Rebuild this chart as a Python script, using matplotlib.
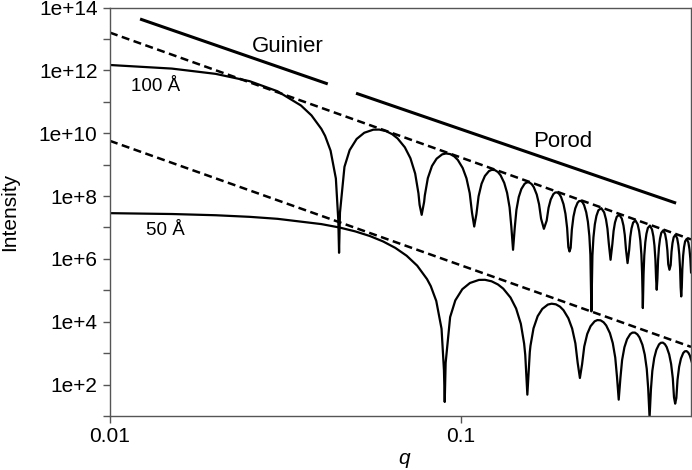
import numpy as np
import matplotlib
matplotlib.use("Agg")
import matplotlib.pyplot as plt
from matplotlib.ticker import FixedLocator, FuncFormatter, NullLocator, NullFormatter

plt.rcParams['font.family'] = ['Liberation Sans', 'DejaVu Sans']

# sphere 100 A: q and log10(intensity)
q_100 = [0.0100, 0.0150, 0.0200, 0.0250, 0.0300, 0.0350, 0.0375, 0.0400, 0.0410, 0.0425,
         0.0440, 0.0447, 0.04493, 0.0452,
         0.04655, 0.04816, 0.05042, 0.05301, 0.05624, 0.05850, 0.06109, 0.06368, 0.06594,
         0.06917, 0.07176, 0.07402, 0.07563, 0.0762, 0.07725, 0.0785,
         0.07884, 0.08043, 0.08265, 0.08520, 0.08838, 0.09060, 0.09315, 0.09569, 0.09791,
         0.10109, 0.10364, 0.10586, 0.10745, 0.10904,
         0.11062, 0.11220, 0.11442, 0.11695, 0.12011, 0.12232, 0.12485, 0.12738, 0.12959,
         0.13276, 0.13528, 0.13750, 0.13908, 0.14066,
         0.14224, 0.14382, 0.14602, 0.14855, 0.15170, 0.15391, 0.15644, 0.15896, 0.16117,
         0.16432, 0.16684, 0.16906, 0.17221,
         0.17536, 0.17757, 0.18009, 0.18324, 0.18544, 0.18796, 0.19048, 0.19269, 0.19584,
         0.19836, 0.20056, 0.20214, 0.20371,
         0.20528, 0.20686, 0.20906, 0.21158, 0.21473, 0.21693, 0.21945, 0.22197, 0.22417,
         0.22732, 0.22984, 0.23204, 0.23362, 0.23519,
         0.23676, 0.23834, 0.24054, 0.24306, 0.24620, 0.25093, 0.25565, 0.25880, 0.26131,
         0.26351, 0.26666,
         0.26981, 0.27201, 0.27452, 0.27767, 0.28239, 0.28710, 0.29025, 0.29276, 0.29497,
         0.29811,
         0.30126, 0.30346, 0.30597, 0.30912, 0.31384, 0.31855, 0.32170, 0.32421, 0.32642,
         0.32799, 0.32956,
         0.33113, 0.33270, 0.33490, 0.33742, 0.34056, 0.34528, 0.34999, 0.35314, 0.35566,
         0.35786, 0.35943, 0.36100,
         0.36257, 0.36414, 0.36634, 0.36886, 0.37200, 0.37672, 0.38144, 0.38458, 0.38710,
         0.38930, 0.39244,
         0.39558, 0.39778, 0.40030, 0.40344, 0.40816, 0.41288, 0.41602, 0.41854, 0.42074,
         0.42231, 0.42388,
         0.42545, 0.42702, 0.42922, 0.43174, 0.43488, 0.43959, 0.44430, 0.44745, 0.44996,
         0.45216]
logI_100 = [12.170, 12.056, 11.888, 11.655, 11.335, 10.881, 10.566, 10.138, 9.914, 9.443,
            8.558, 7.241, 6.194, 7.472,
            8.929, 9.461, 9.816, 10.014, 10.112, 10.115, 10.068, 9.968, 9.835,
            9.551, 9.202, 8.715, 8.086, 7.721, 7.402, 7.815,
            8.014, 8.570, 8.957, 9.189, 9.327, 9.355, 9.335, 9.261, 9.149,
            8.892, 8.564, 8.093, 7.476, 7.030,
            7.426, 7.992, 8.392, 8.639, 8.794, 8.834, 8.826, 8.764, 8.662,
            8.419, 8.101, 7.639, 7.028, 6.289,
            6.989, 7.561, 7.968, 8.224, 8.388, 8.435, 8.435, 8.379, 8.283,
            8.048, 7.737, 7.280, 6.957,
            7.216, 7.628, 7.889, 8.060, 8.111, 8.116, 8.065, 7.973, 7.743,
            7.436, 6.983, 6.378, 6.235,
            6.352, 6.929, 7.345, 7.609, 7.784, 7.839, 7.847, 7.799, 7.710,
            7.484, 7.180, 6.730, 6.127, 4.330,
            6.104, 6.683, 7.101, 7.368, 7.547, 7.614, 7.481, 7.259, 6.957,
            6.509, 5.971,
            6.468, 6.888, 7.157, 7.338, 7.409, 7.280, 7.060, 6.760, 6.313,
            5.866,
            6.276, 6.698, 6.968, 7.152, 7.225, 7.099, 6.881, 6.583, 6.137,
            5.538, 4.435,
            5.521, 6.104, 6.526, 6.798, 6.983, 7.059, 6.936, 6.719, 6.422,
            5.977, 5.379, 5.017,
            5.363, 5.947, 6.371, 6.644, 6.830, 6.908, 6.786, 6.571, 6.275,
            5.831, 5.653,
            5.803, 6.227, 6.501, 6.689, 6.769, 6.649, 6.435, 6.139, 5.696,
            5.099, 4.805,
            5.086, 5.670, 6.095, 6.370, 6.559, 6.640, 6.521, 6.308, 6.013,
            5.571]

# sphere 50 A
q_50 = [0.0100, 0.0150, 0.0200, 0.0250, 0.0300, 0.0400, 0.0450, 0.0500, 0.0550, 0.0600,
        0.0650, 0.0700, 0.0750, 0.0800, 0.0820, 0.0850, 0.0880, 0.0894, 0.08986, 0.0904,
        0.0931, 0.09632, 0.10084, 0.10602, 0.11248, 0.11700, 0.12218, 0.12736, 0.13188,
        0.13834, 0.14352, 0.14804, 0.15126, 0.1524, 0.1545, 0.1570,
        0.15768, 0.16086, 0.16530, 0.17040, 0.17676, 0.18120, 0.18630, 0.19138, 0.19582,
        0.20218, 0.20728, 0.21172, 0.21490, 0.21808,
        0.22124, 0.22440, 0.22884, 0.23390, 0.24022, 0.24464, 0.24970, 0.25476, 0.25918,
        0.26552, 0.27056, 0.27500, 0.27816, 0.28132,
        0.28448, 0.28764, 0.29204, 0.29710, 0.30340, 0.30782, 0.31288, 0.31792, 0.32234,
        0.32864, 0.33368, 0.33812, 0.34126, 0.34442,
        0.34758, 0.35072, 0.35514, 0.36018, 0.36648, 0.37088, 0.37592, 0.38096, 0.38538,
        0.39168, 0.39672, 0.40112, 0.40428, 0.40742,
        0.41056, 0.41372, 0.41812, 0.42316, 0.42946, 0.43386, 0.43890, 0.44394, 0.44834,
        0.45464]
logI_50 = [7.455, 7.428, 7.389, 7.338, 7.275, 7.107, 7.000, 6.874, 6.727, 6.554,
           6.349, 6.100, 5.785, 5.357, 5.133, 4.662, 3.777, 2.460, 1.447, 2.691,
           4.148, 4.680, 5.035, 5.233, 5.331, 5.334, 5.287, 5.187, 5.054,
           4.770, 4.421, 3.934, 3.305, 2.940, 1.679, 3.034,
           3.233, 3.789, 4.176, 4.408, 4.546, 4.574, 4.554, 4.480, 4.368,
           4.111, 3.783, 3.312, 2.695, 2.210,
           2.645, 3.211, 3.611, 3.858, 4.013, 4.053, 4.045, 3.983, 3.881,
           3.638, 3.320, 2.858, 2.247, 1.520,
           2.208, 2.780, 3.187, 3.443, 3.607, 3.654, 3.654, 3.598, 3.502,
           3.267, 2.956, 2.499, 1.892, 0.950,
           1.860, 2.435, 2.847, 3.108, 3.279, 3.330, 3.335, 3.284, 3.192,
           2.962, 2.655, 2.202, 1.597, 1.393,
           1.571, 2.148, 2.564, 2.828, 3.003, 3.058, 3.066, 3.018, 2.929,
           2.703]

# q^-4 envelopes (dashed)
env_q = [0.01, 0.452]
env100_logI = [13.20, 6.62]
env50_logI = [9.755, 3.20]

# Guinier / Porod guide line
guinier_q = [0.01218, 0.04172]
guinier_logI = [13.634, 11.568]
porod_q = [0.05022, 0.4099]
porod_logI = [11.272, 7.774]

xticks = [0.01, 0.1]
xtick_labels = ['0.01', '0.1']
ymajor = [1e2, 1e4, 1e6, 1e8, 1e10, 1e12, 1e14]
yminor = [1e1, 1e3, 1e5, 1e7, 1e9, 1e11, 1e13]

fig = plt.figure(figsize=(6.92, 4.70), dpi=100)
ax = fig.add_axes([0.15896, 0.11489, 0.83960, 0.86915])

ax.plot(q_100, np.power(10.0, logI_100), color='black', lw=1.6)
ax.plot(q_50, np.power(10.0, logI_50), color='black', lw=1.6)
ax.plot(env_q, np.power(10.0, env100_logI), color='black', lw=1.8, dashes=(3.2, 1.8))
ax.plot(env_q, np.power(10.0, env50_logI), color='black', lw=1.8, dashes=(3.2, 1.8))
ax.plot(guinier_q, np.power(10.0, guinier_logI), color='black', lw=2.2, solid_capstyle='butt')
ax.plot(porod_q, np.power(10.0, porod_logI), color='black', lw=2.2, solid_capstyle='butt')

ax.set_xscale('log')
ax.set_yscale('log')
ax.set_xlim(0.01, 0.452)
ax.set_ylim(1e1, 1e14)

ax.xaxis.set_major_locator(FixedLocator(xticks))
ax.xaxis.set_major_formatter(FuncFormatter(lambda v, p: xtick_labels[xticks.index(v)] if v in xticks else ''))
ax.xaxis.set_minor_locator(NullLocator())
ax.yaxis.set_major_locator(FixedLocator(ymajor))
ax.yaxis.set_minor_locator(FixedLocator(yminor))
ax.yaxis.set_major_formatter(FuncFormatter(lambda v, p: '1e+%d' % round(np.log10(v))))
ax.yaxis.set_minor_formatter(NullFormatter())

spine_col = '#555555'
for s in ax.spines.values():
    s.set_color(spine_col)
    s.set_linewidth(1.0)
ax.tick_params(which='both', direction='out', length=5, width=1.0, color=spine_col,
               labelsize=15, pad=4)
ax.tick_params(axis='x', pad=3)

ax.set_ylabel('Intensity', fontsize=15)
ax.yaxis.set_label_coords(-0.1566, 0.5)
ax.set_xlabel('q', fontsize=15, fontstyle='italic')
ax.xaxis.set_label_coords(0.506, -0.080)

ax.text(0.03214, 10**12.576, 'Guinier', fontsize=16, ha='center', va='baseline')
ax.text(0.1949, 10**9.574, 'Porod', fontsize=16, ha='center', va='baseline')
ax.text(0.01348, 10**11.355, '100 Å', fontsize=13.5, ha='center', va='baseline')
ax.text(0.01435, 10**6.766, '50 Å', fontsize=13.5, ha='center', va='baseline')

fig.savefig('out.png', dpi=100)
